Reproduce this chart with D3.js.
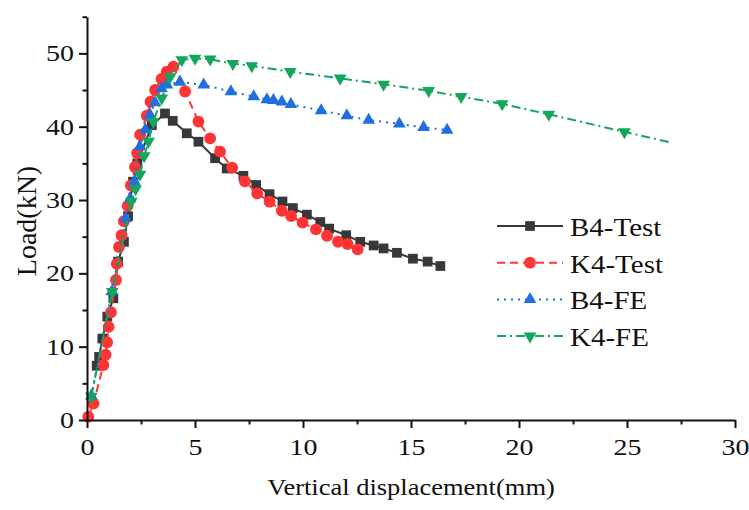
<!DOCTYPE html>
<html>
<head>
<meta charset="utf-8">
<script src="https://cdn.jsdelivr.net/npm/d3@7"></script>
<style>
  body { margin: 0; background: #fff; }
  svg { display: block; }
  text { font-family: 'Liberation Serif', 'Times New Roman', serif; fill: #111; }
</style>
</head>
<body>
<div class="container"></div>
<script>
const WIDTH = 749;
const HEIGHT = 510;

// [displacement mm, load kN]
const b4Test = [
  [0.45, 7.4], [0.56, 8.6], [0.71, 11.1], [0.94, 14.1], [1.22, 16.6], [1.44, 21.6],
  [1.71, 24.3], [1.9, 27.8], [2.13, 32.5], [2.33, 35.0], [3.0, 40.2], [3.61, 41.8],
  [3.97, 40.8], [4.62, 39.1], [5.16, 37.95], [5.93, 35.7], [6.47, 34.3], [7.24, 33.3],
  [7.83, 32.05], [8.45, 30.8], [9.05, 29.8], [9.53, 28.9], [10.18, 28.0], [10.8, 27.0],
  [11.21, 26.1], [12.0, 25.2], [12.65, 24.3], [13.27, 23.8], [13.73, 23.4], [14.35, 22.8],
  [15.09, 22.0], [15.77, 21.6], [16.36, 21.0]
];
const k4Test = [
  [0.06, 0.45], [0.3, 2.25], [0.76, 7.5], [0.86, 8.9], [0.93, 10.6], [1.0, 12.7],
  [1.11, 14.7], [1.34, 19.1], [1.38, 21.3], [1.48, 23.6], [1.6, 25.2], [1.71, 27.1],
  [1.88, 29.2], [2.03, 32.0], [2.22, 34.5], [2.32, 36.4], [2.46, 38.9], [2.77, 41.5],
  [2.94, 43.4], [3.15, 45.0], [3.45, 46.5], [3.69, 47.5], [4.0, 48.2], [4.54, 44.8],
  [5.16, 40.7], [5.7, 38.4], [6.16, 36.6], [6.72, 34.4], [7.31, 32.55], [7.88, 30.9],
  [8.45, 29.77], [9.02, 28.54], [9.45, 27.82], [9.98, 26.91], [10.6, 26.0], [11.11, 25.13],
  [11.62, 24.31], [12.06, 24.0], [12.53, 23.28]
];
const b4FE = [
  [0.2, 3.3], [1.15, 17.5], [1.8, 27.5], [2.0, 30.2], [2.2, 32.5], [2.45, 37.3],
  [2.7, 39.6], [2.92, 41.6], [3.15, 43.3], [3.45, 45.2], [3.7, 45.7], [4.3, 46.1],
  [5.4, 45.7], [6.66, 44.8], [7.72, 44.1], [8.33, 43.7], [8.63, 43.6], [9.02, 43.4],
  [9.44, 43.05], [10.84, 42.2], [12.03, 41.5], [13.04, 40.9], [14.46, 40.4], [15.58, 39.9],
  [16.67, 39.55], [17.0, 39.4]
];
const k4FE = [
  [0.2, 3.2], [1.17, 17.5], [2.05, 29.8], [2.25, 31.5], [2.45, 33.5], [2.65, 36.0],
  [2.85, 38.0], [3.07, 40.7], [3.46, 43.9], [3.85, 46.8], [4.39, 49.1], [5.0, 49.3],
  [5.7, 49.2], [6.75, 48.6], [7.63, 48.3], [9.41, 47.5], [11.72, 46.6], [13.73, 45.78],
  [15.82, 44.9], [17.32, 44.09], [19.22, 43.1], [21.38, 41.69], [24.88, 39.3], [27.09, 37.8]
];

const seriesNames = ['B4-Test', 'K4-Test', 'B4-FE', 'K4-FE'];
const xTicks = [0, 5, 10, 15, 20, 25, 30];
const xMinorTicks = [2.5, 7.5, 12.5, 17.5, 22.5, 27.5];
const yTicks = [0, 10, 20, 30, 40, 50];
const yMinorTicks = [5, 15, 25, 35, 45, 55];
const xTitle = 'Vertical displacement(mm)';
const yTitle = 'Load(kN)';

var series = [
  { name: seriesNames[0], data: b4Test, color: '#383838', dash: null, symbol: d3.symbolSquare, size: 95, rot: 0, lastMarker: true },
  { name: seriesNames[1], data: k4Test, color: '#ff3434', dash: '8,5', symbol: d3.symbolCircle, size: 110, rot: 0, lastMarker: true },
  { name: seriesNames[2], data: b4FE, color: '#1f6fe0', dash: '2,5', symbol: d3.symbolTriangle, size: 70, rot: 0, lastMarker: false },
  { name: seriesNames[3], data: k4FE, color: '#13a65c', dash: '9,4,2,4', symbol: d3.symbolTriangle, size: 70, rot: 180, lastMarker: false }
];

var translate = function(x, y) {
  return `translate(${x},${y})`;
};

var svg = d3.select('.container').append('svg')
  .attr('width', WIDTH)
  .attr('height', HEIGHT);

svg.append('rect').attr('width', WIDTH).attr('height', HEIGHT).attr('fill', '#fff');

let xScale = d3.scaleLinear().domain([0, 30]).range([87, 735]);
let yScale = d3.scaleLinear().domain([0, 55]).range([420, 16.7]);

// curves first, axes drawn over them
var line = d3.line()
  .x(([x, y]) => xScale(x))
  .y(([x, y]) => yScale(y));

var symbolPath = function(s) {
  return d3.symbol().type(s.symbol).size(s.size)();
};

series.forEach(function(s) {
  var g = svg.append('g');
  g.append('path')
    .attr('d', line(s.data))
    .attr('fill', 'none')
    .attr('stroke', s.color)
    .attr('stroke-width', 2)
    .attr('stroke-dasharray', s.dash);
  var pts = s.lastMarker ? s.data : s.data.slice(0, -1);
  g.selectAll('path.marker').data(pts).enter()
    .append('path')
    .classed('marker', true)
    .attr('d', symbolPath(s))
    .attr('fill', s.color)
    .attr('transform', ([x, y]) => translate(xScale(x), yScale(y)) + ` rotate(${s.rot})`);
});

// axes
var styleAxis = function(g) {
  g.selectAll('path, line').attr('stroke', '#111').attr('stroke-width', 2);
};

var xAxis = svg.append('g')
  .attr('transform', translate(0, 420))
  .call(d3.axisBottom(xScale).tickValues(xTicks).tickSize(8).tickSizeOuter(0).tickFormat(d3.format('d')));
xAxis.call(styleAxis);
xAxis.selectAll('text')
  .attr('y', null).attr('dy', null)
  .attr('font-size', 28)
  .attr('fill', '#111')
  .attr('transform', 'translate(0,35) scale(1,0.82)');

svg.append('g')
  .attr('transform', translate(0, 420))
  .call(d3.axisBottom(xScale).tickValues(xMinorTicks).tickSize(4.5).tickSizeOuter(0).tickFormat(''))
  .call(styleAxis)
  .select('.domain').remove();

var yAxis = svg.append('g')
  .attr('transform', translate(87, 0))
  .call(d3.axisLeft(yScale).tickValues(yTicks).tickSize(8).tickSizeOuter(0).tickFormat(d3.format('d')));
yAxis.call(styleAxis);
yAxis.selectAll('text')
  .attr('x', null).attr('dy', null)
  .attr('font-size', 28)
  .attr('fill', '#111')
  .attr('transform', 'translate(-13,7.5) scale(1,0.8)');

svg.append('g')
  .attr('transform', translate(87, 0))
  .call(d3.axisLeft(yScale).tickValues(yMinorTicks).tickSize(4.5).tickSizeOuter(0).tickFormat(''))
  .call(styleAxis)
  .select('.domain').remove();

// titles
svg.append('text')
  .attr('text-anchor', 'middle')
  .attr('font-size', 26.5)
  .attr('transform', translate(411, 495) + ' scale(1,0.88)')
  .text(xTitle);

svg.append('text')
  .attr('text-anchor', 'middle')
  .attr('font-size', 28)
  .attr('transform', translate(36, 221) + ' rotate(-90)')
  .text(yTitle);

// legend
var legend = svg.append('g');
series.forEach(function(s, i) {
  var ly = 226 + i * 36.7;
  legend.append('line')
    .attr('x1', 497).attr('x2', 563)
    .attr('y1', ly).attr('y2', ly)
    .attr('stroke', s.color)
    .attr('stroke-width', 2)
    .attr('stroke-dasharray', s.dash);
  legend.append('path')
    .attr('d', symbolPath(s))
    .attr('fill', s.color)
    .attr('transform', translate(530, ly) + ` rotate(${s.rot})`);
  legend.append('text')
    .attr('font-size', 29)
    .attr('transform', translate(570, ly + 10) + ' scale(1,0.885)')
    .text(s.name);
});
</script>
</body>
</html>
